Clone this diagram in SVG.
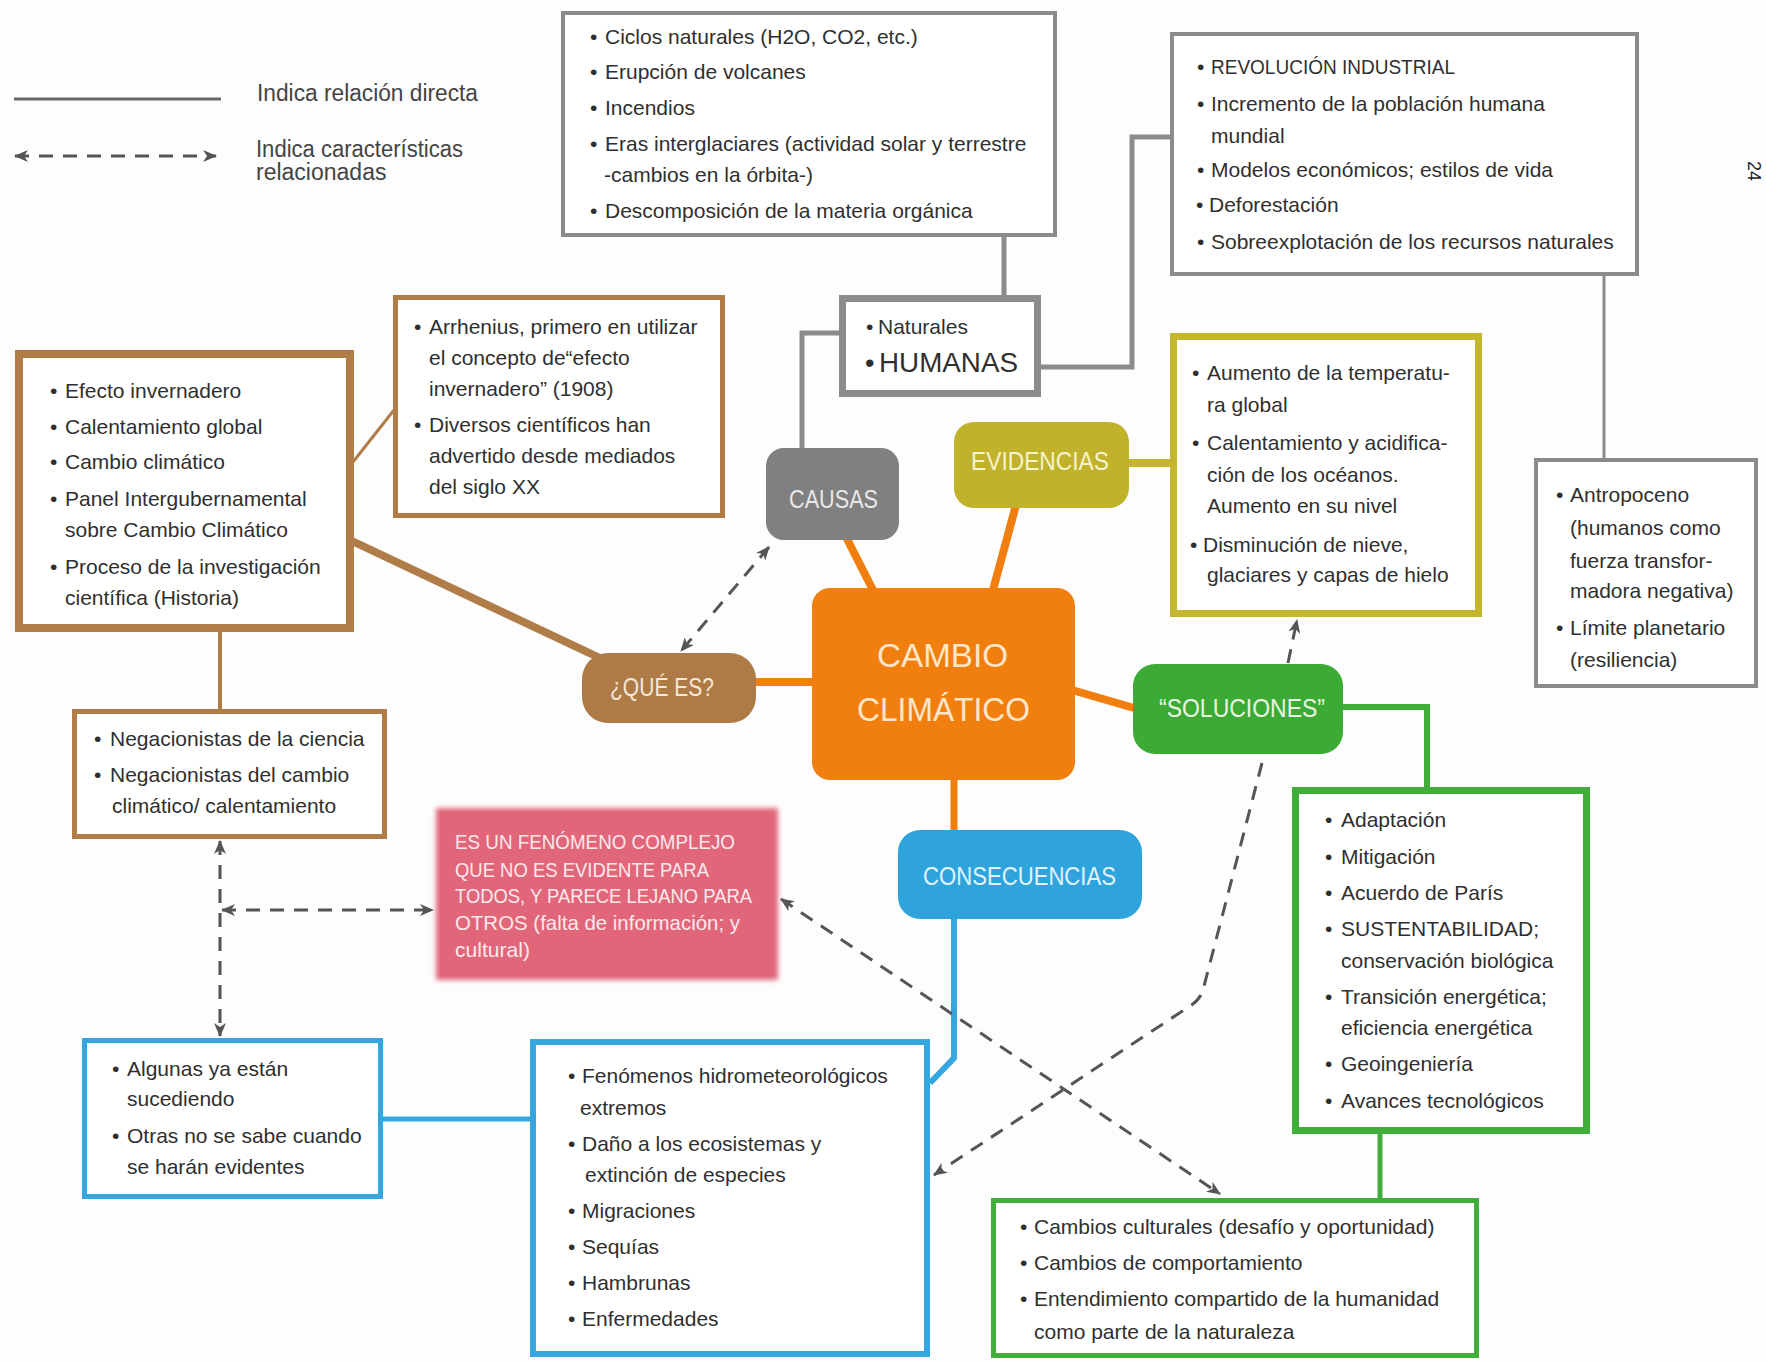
<svg xmlns="http://www.w3.org/2000/svg" width="1766" height="1361" viewBox="0 0 1766 1361">
<style>
.t{font-family:"Liberation Sans",Arial,sans-serif;font-size:21px;fill:#2f2f2f}
.lg{font-family:"Liberation Sans",Arial,sans-serif;font-size:23px;fill:#444}
.lbl{font-family:"Liberation Sans",Arial,sans-serif;font-size:25px}
.pk{font-family:"Liberation Sans",Arial,sans-serif;font-size:21px;fill:#fde9ec}
.bx{fill:#fff}
.gy{stroke:#8b8b8b}
.br{stroke:#b07d48}
.ol{stroke:#c4b62e}
.bl{stroke:#35a6de}
.gr{stroke:#41ad3b}
.ln{fill:none;stroke-linejoin:miter}
.dash{fill:none;stroke:#555;stroke-width:3;stroke-dasharray:14 10}
</style>
<defs>
<marker id="ah" viewBox="0 0 14 12" refX="13" refY="6" markerWidth="14" markerHeight="12" orient="auto-start-reverse" markerUnits="userSpaceOnUse">
<path d="M0,0 L14,6 L0,12 L4,6 z" fill="#555"/>
</marker>
<filter id="soft" x="-5%" y="-5%" width="110%" height="110%">
<feGaussianBlur stdDeviation="2.5"/>
</filter>
</defs>
<rect width="1766" height="1361" fill="#fdfdfd"/>

<g id="legend">
<line x1="14" y1="99" x2="221" y2="99" stroke="#666" stroke-width="3"/>
<text class="lg" x="257" y="101" textLength="221" lengthAdjust="spacingAndGlyphs">Indica relación directa</text>
<path class="dash" d="M15,156 H216" marker-start="url(#ah)" marker-end="url(#ah)"/>
<text class="lg" x="256" y="157" textLength="207" lengthAdjust="spacingAndGlyphs">Indica características</text>
<text class="lg" x="256" y="180">relacionadas</text>
</g>

<g id="connectors">
<path class="ln gy" stroke-width="5" d="M1004,237 V330 H971"/>
<path class="ln gy" stroke-width="5" d="M1024,367 H1132 V137 H1170"/>
<path class="ln gy" stroke-width="5" d="M802,448 V333 H839"/>
<path class="ln gy" stroke-width="3" d="M1604,276 V458"/>
<path class="ln" stroke="#f07f10" stroke-width="8" d="M844,533 L873,590"/>
<path class="ln" stroke="#f07f10" stroke-width="8" d="M1016,505 L993,590"/>
<path class="ln" stroke="#f07f10" stroke-width="8" d="M756,682 H814"/>
<path class="ln" stroke="#f07f10" stroke-width="8" d="M1072,690 L1134,708"/>
<path class="ln" stroke="#f07f10" stroke-width="7" d="M954,778 V831"/>
<path class="ln ol" stroke-width="8" d="M1129,463 H1172"/>
<path class="ln gr" stroke-width="6" d="M1343,707 H1427 V788"/>
<path class="ln gr" stroke-width="5" d="M1380,1133 V1199"/>
<path class="ln bl" stroke-width="6" d="M954,918 V1058 L930,1083"/>
<path class="ln bl" stroke-width="5" d="M382,1119 H531"/>
<path class="ln br" stroke-width="8" d="M352,541 L602,659"/>
<path class="ln br" stroke-width="3" d="M353,462 L394,410"/>
<path class="ln br" stroke-width="4" d="M220,630 V710"/>
<path class="dash" d="M769,547 L681,651" marker-start="url(#ah)" marker-end="url(#ah)"/>
<path class="dash" d="M220,841 V1036" marker-start="url(#ah)" marker-end="url(#ah)"/>
<path class="dash" d="M222,910 H433" marker-start="url(#ah)" marker-end="url(#ah)"/>
<path class="dash" d="M781,899 L1220,1194" marker-start="url(#ah)" marker-end="url(#ah)"/>
<path class="dash" d="M1288,663 L1297,620" marker-end="url(#ah)"/>
<path class="dash" d="M1262,763 L1203,990 Q1200,1000 1190,1006 L934,1175" marker-end="url(#ah)"/>
</g>

<g id="causas-lista">
<rect class="bx gy" x="563" y="13" width="492" height="222" stroke-width="4"/>
<text class="t" y="44"><tspan x="590">•</tspan><tspan x="605">Ciclos naturales (H2O, CO2, etc.)</tspan></text>
<text class="t" y="79"><tspan x="590">•</tspan><tspan x="605">Erupción de volcanes</tspan></text>
<text class="t" y="115"><tspan x="590">•</tspan><tspan x="605">Incendios</tspan></text>
<text class="t" y="151"><tspan x="590">•</tspan><tspan x="605">Eras interglaciares (actividad solar y terrestre</tspan></text>
<text class="t" x="604" y="182">-cambios en la órbita-)</text>
<text class="t" y="218"><tspan x="590">•</tspan><tspan x="605">Descomposición de la materia orgánica</tspan></text>
</g>

<g id="tipos-causas">
<rect class="bx gy" x="842.5" y="298.5" width="195" height="95" stroke-width="7"/>
<text class="t" y="334"><tspan x="866">•</tspan><tspan x="878">Naturales</tspan></text>
<text class="t" y="372" style="font-size:27px"><tspan x="865">•</tspan><tspan x="879" textLength="139" lengthAdjust="spacingAndGlyphs">HUMANAS</tspan></text>
</g>

<g id="humanas-lista">
<rect class="bx gy" x="1172" y="34" width="465" height="240" stroke-width="4"/>
<text class="t" y="74"><tspan x="1197">•</tspan><tspan x="1211" textLength="244" lengthAdjust="spacingAndGlyphs">REVOLUCIÓN INDUSTRIAL</tspan></text>
<text class="t" y="111"><tspan x="1197">•</tspan><tspan x="1211">Incremento de la población humana</tspan></text>
<text class="t" x="1211" y="143">mundial</text>
<text class="t" y="177"><tspan x="1197">•</tspan><tspan x="1211">Modelos económicos; estilos de vida</tspan></text>
<text class="t" y="212"><tspan x="1196">•</tspan><tspan x="1209">Deforestación</tspan></text>
<text class="t" y="249"><tspan x="1197">•</tspan><tspan x="1211">Sobreexplotación de los recursos naturales</tspan></text>
</g>

<g id="antropoceno">
<rect class="bx gy" x="1536" y="460" width="220" height="226" stroke-width="4"/>
<text class="t" y="502"><tspan x="1556">•</tspan><tspan x="1570">Antropoceno</tspan></text>
<text class="t" x="1570" y="535">(humanos como</text>
<text class="t" x="1570" y="568">fuerza transfor-</text>
<text class="t" x="1570" y="598">madora negativa)</text>
<text class="t" y="635"><tspan x="1556">•</tspan><tspan x="1570">Límite planetario</tspan></text>
<text class="t" x="1570" y="667">(resiliencia)</text>
</g>

<g id="evidencias-lista">
<rect class="bx ol" x="1173.5" y="336.5" width="305" height="277" stroke-width="7"/>
<text class="t" y="380"><tspan x="1192">•</tspan><tspan x="1207">Aumento de la temperatu-</tspan></text>
<text class="t" x="1207" y="412">ra global</text>
<text class="t" y="450"><tspan x="1192">•</tspan><tspan x="1207">Calentamiento y acidifica-</tspan></text>
<text class="t" x="1207" y="482">ción de los océanos.</text>
<text class="t" x="1207" y="513">Aumento en su nivel</text>
<text class="t" y="552"><tspan x="1190">•</tspan><tspan x="1203">Disminución de nieve,</tspan></text>
<text class="t" x="1207" y="582">glaciares y capas de hielo</text>
</g>

<g id="que-es-lista">
<rect class="bx br" x="19" y="354" width="331" height="274" stroke-width="8"/>
<text class="t" y="398"><tspan x="50">•</tspan><tspan x="65">Efecto invernadero</tspan></text>
<text class="t" y="434"><tspan x="50">•</tspan><tspan x="65">Calentamiento global</tspan></text>
<text class="t" y="469"><tspan x="50">•</tspan><tspan x="65">Cambio climático</tspan></text>
<text class="t" y="506"><tspan x="50">•</tspan><tspan x="65">Panel Intergubernamental</tspan></text>
<text class="t" x="65" y="537">sobre  Cambio Climático</text>
<text class="t" y="574"><tspan x="50">•</tspan><tspan x="65">Proceso de la investigación</tspan></text>
<text class="t" x="65" y="605">científica (Historia)</text>
</g>

<g id="arrhenius">
<rect class="bx br" x="395.5" y="297.5" width="327" height="218" stroke-width="5"/>
<text class="t" y="334"><tspan x="414">•</tspan><tspan x="429">Arrhenius, primero en utilizar</tspan></text>
<text class="t" x="429" y="365">el concepto de“efecto</text>
<text class="t" x="429" y="396">invernadero” (1908)</text>
<text class="t" y="432"><tspan x="414">•</tspan><tspan x="429">Diversos científicos han</tspan></text>
<text class="t" x="429" y="463">advertido desde mediados</text>
<text class="t" x="429" y="494">del siglo XX</text>
</g>

<g id="negacionistas">
<rect class="bx br" x="74.5" y="711.5" width="310" height="125" stroke-width="5"/>
<text class="t" y="746"><tspan x="94">•</tspan><tspan x="110">Negacionistas de la ciencia</tspan></text>
<text class="t" y="782"><tspan x="94">•</tspan><tspan x="110">Negacionistas del cambio</tspan></text>
<text class="t" x="112" y="813">climático/ calentamiento</text>
</g>

<g id="fenomeno-complejo">
<rect x="436" y="808" width="342" height="172" fill="#e1667a" filter="url(#soft)"/>
<rect x="440" y="812" width="334" height="164" fill="#e1667a"/>
<text class="pk" x="455" y="849" textLength="280" lengthAdjust="spacingAndGlyphs">ES UN FENÓMENO COMPLEJO</text>
<text class="pk" x="455" y="877" textLength="254" lengthAdjust="spacingAndGlyphs">QUE NO ES EVIDENTE PARA</text>
<text class="pk" x="455" y="903" textLength="297" lengthAdjust="spacingAndGlyphs">TODOS, Y PARECE LEJANO PARA</text>
<text class="pk" x="455" y="930" textLength="285" lengthAdjust="spacingAndGlyphs">OTROS (falta de información; y</text>
<text class="pk" x="455" y="957" textLength="75" lengthAdjust="spacingAndGlyphs">cultural)</text>
</g>

<g id="algunas">
<rect class="bx bl" x="84.5" y="1040.5" width="296" height="156" stroke-width="5"/>
<text class="t" y="1076"><tspan x="112">•</tspan><tspan x="127">Algunas ya están</tspan></text>
<text class="t" x="127" y="1106">sucediendo</text>
<text class="t" y="1143"><tspan x="112">•</tspan><tspan x="127">Otras no se sabe cuando</tspan></text>
<text class="t" x="127" y="1174">se harán evidentes</text>
</g>

<g id="consecuencias-lista">
<rect class="bx bl" x="533" y="1042" width="394" height="312" stroke-width="6"/>
<text class="t" y="1083"><tspan x="568">•</tspan><tspan x="582">Fenómenos hidrometeorológicos</tspan></text>
<text class="t" x="580" y="1115">extremos</text>
<text class="t" y="1151"><tspan x="568">•</tspan><tspan x="582">Daño a los ecosistemas y</tspan></text>
<text class="t" x="585" y="1182">extinción de especies</text>
<text class="t" y="1218"><tspan x="568">•</tspan><tspan x="582">Migraciones</tspan></text>
<text class="t" y="1254"><tspan x="568">•</tspan><tspan x="582">Sequías</tspan></text>
<text class="t" y="1290"><tspan x="568">•</tspan><tspan x="582">Hambrunas</tspan></text>
<text class="t" y="1326"><tspan x="568">•</tspan><tspan x="582">Enfermedades</tspan></text>
</g>

<g id="soluciones-lista">
<rect class="bx gr" x="1295.5" y="790.5" width="291" height="340" stroke-width="7"/>
<text class="t" y="827"><tspan x="1325">•</tspan><tspan x="1341">Adaptación</tspan></text>
<text class="t" y="864"><tspan x="1325">•</tspan><tspan x="1341">Mitigación</tspan></text>
<text class="t" y="900"><tspan x="1325">•</tspan><tspan x="1341">Acuerdo de París</tspan></text>
<text class="t" y="936"><tspan x="1325">•</tspan><tspan x="1341">SUSTENTABILIDAD;</tspan></text>
<text class="t" x="1341" y="968">conservación biológica</text>
<text class="t" y="1004"><tspan x="1325">•</tspan><tspan x="1341">Transición energética;</tspan></text>
<text class="t" x="1341" y="1035">eficiencia energética</text>
<text class="t" y="1071"><tspan x="1325">•</tspan><tspan x="1341">Geoingeniería</tspan></text>
<text class="t" y="1108"><tspan x="1325">•</tspan><tspan x="1341">Avances tecnológicos</tspan></text>
</g>

<g id="cambios-culturales">
<rect class="bx gr" x="993.5" y="1200.5" width="483" height="155" stroke-width="5"/>
<text class="t" y="1234"><tspan x="1020">•</tspan><tspan x="1034">Cambios culturales (desafío y oportunidad)</tspan></text>
<text class="t" y="1270"><tspan x="1020">•</tspan><tspan x="1034">Cambios de comportamiento</tspan></text>
<text class="t" y="1306"><tspan x="1020">•</tspan><tspan x="1034">Entendimiento compartido de la humanidad</tspan></text>
<text class="t" x="1034" y="1339">como parte de la naturaleza</text>
</g>

<g id="causas">
<rect x="766" y="448" width="133" height="92" rx="18" fill="#808080"/>
<text class="lbl" x="789" y="508" fill="#e8e8e8" textLength="89" lengthAdjust="spacingAndGlyphs">CAUSAS</text>
</g>

<g id="evidencias">
<rect x="954" y="422" width="175" height="86" rx="20" fill="#c0b22b"/>
<text class="lbl" x="971" y="470" fill="#f7f3cc" textLength="138" lengthAdjust="spacingAndGlyphs">EVIDENCIAS</text>
</g>

<g id="que-es">
<rect x="582" y="653" width="174" height="70" rx="26" fill="#ae7a46"/>
<text class="lbl" x="610" y="696" fill="#f5e8d8" textLength="104" lengthAdjust="spacingAndGlyphs">¿QUÉ ES?</text>
</g>

<g id="cambio-climatico">
<rect x="812" y="588" width="263" height="192" rx="18" fill="#f07f10"/>
<text class="lbl" x="877" y="667" fill="#fde6c9" style="font-size:33px" textLength="131" lengthAdjust="spacingAndGlyphs">CAMBIO</text>
<text class="lbl" x="857" y="721" fill="#fde6c9" style="font-size:33px" textLength="173" lengthAdjust="spacingAndGlyphs">CLIMÁTICO</text>
</g>

<g id="soluciones">
<rect x="1133" y="664" width="210" height="90" rx="22" fill="#3bab35"/>
<text class="lbl" x="1159" y="717" fill="#e8f6e2" textLength="166" lengthAdjust="spacingAndGlyphs">“SOLUCIONES”</text>
</g>

<g id="consecuencias">
<rect x="898" y="830" width="244" height="89" rx="22" fill="#2fa3dc"/>
<text class="lbl" x="923" y="885" fill="#e0f3fc" textLength="193" lengthAdjust="spacingAndGlyphs">CONSECUENCIAS</text>
</g>

<text class="t" transform="translate(1748,161) rotate(90)" style="font-size:18px;fill:#222">24</text>
</svg>
